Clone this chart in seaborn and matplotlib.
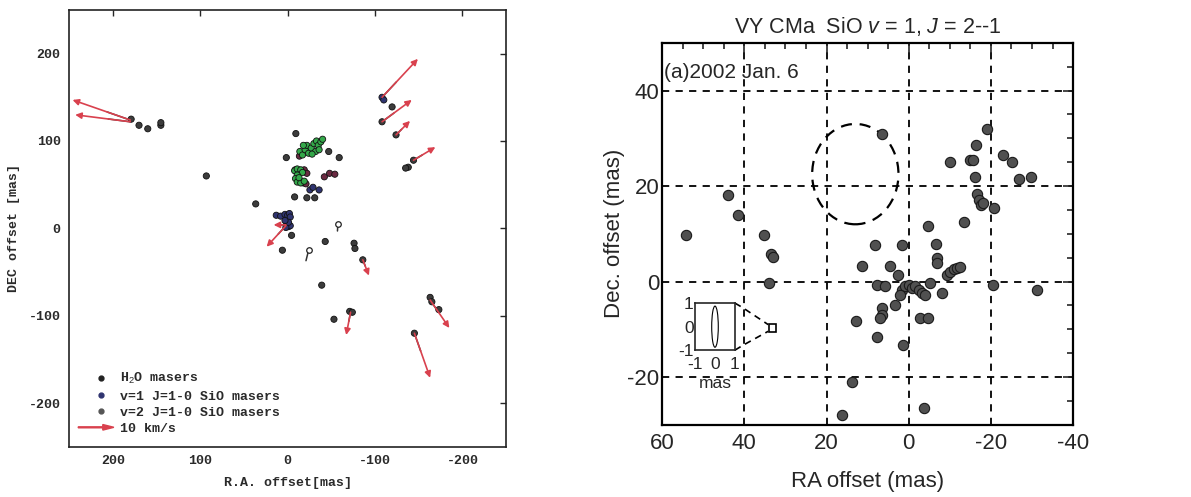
import pandas as pd
import seaborn as sns
import matplotlib.pyplot as plt
from matplotlib.lines import Line2D
from matplotlib.patches import Ellipse, Rectangle, FancyArrow
from matplotlib.legend_handler import HandlerPatch

sns.set_style('white')
plt.rcParams['font.family'] = ['Liberation Sans', 'DejaVu Sans']
plt.rcParams['mathtext.fontset'] = 'custom'
plt.rcParams['mathtext.it'] = 'Liberation Sans:italic'
plt.rcParams['mathtext.rm'] = 'Liberation Sans'
plt.rcParams['axes.unicode_minus'] = False

# ==== LEFT PANEL: maser spots (mas) ====
h2o_ra = [179, 170, 160, 145, 145, -119.5, -108, -124, -138, -135, -144,
          -163, -165, -173, -145, -76, -77, -86, -71, -74, -53, -39, -43,
          6, -4.5, 36.5, 93, -8, -22, -31, -47, -59, 1.5, -9.4]
h2o_dec = [125, 118, 114, 118, 121, 139, 122, 107, 70, 69, 78,
           -79, -84, -93, -120, -17, -23, -36, -95, -96, -104, -65, -15,
           -25, -8, 28, 60, 36, 35, 35, 88, 81, 81, 108.5]
open_ra = [-57.5, -24]
open_dec = [5, -25]

v1_ra = [-108, -110, 13, 8, 3, 0, -2, -3, 1, -1, -3, 2, -1, 3, -25.5, -29, -36]
v1_dec = [150, 147, 15, 14, 16, 15, 17, 13, 5, 2, 3, 1, 7, 9, 44, 47, 44]

v2_ra = [-18, -21, -42, -48, -54, -13.5, -19, -22, -8.6]
v2_dec = [52, 51, 59, 63, 62, 82.7, 67, 63, 67]

green_ra = [-14, -17, -20, -22, -24, -27, -30, -33, -35, -38, -40, -32, -28, -18, -36,
            -8, -11, -15, -17, -11, -9, -11, -15, -19, -13]
green_dec = [88, 84, 90, 95, 86, 92, 97, 100, 95, 99, 102, 88, 85, 95, 90,
             66, 68, 67, 64, 61, 57, 53, 52, 54, 58]

# proper-motion arrows: start -> end
arrow_ra0 = [180, 180, -108, -108, -124, -144, -163, -145, -86, -72, 2, 2]
arrow_dec0 = [124, 122, 150, 122, 107, 78, -82, -120, -36, -96, 3, 4]
arrow_ra1 = [246, 243, -149, -142, -140, -169, -185, -163, -93, -67, 24, 16]
arrow_dec1 = [147, 130, 194, 147, 123, 93, -114, -171, -54, -122, -21, 4]
# short dark tails without heads
tail_ra0 = [-57.5, -24]
tail_dec0 = [5, -25]
tail_ra1 = [-57, -21]
tail_dec1 = [-3, -37]

# ==== RIGHT PANEL: SiO v=1 J=2-1 spots (mas) ====
sio_ra = [54.1, 44, 41.6, 35.2, 33.6, 33.1, 34, 6.5, -19, -16.4, -10.1, -15, -15.6,
          -16.2, -22.9, -25.1, -26.8, -29.8, -16.6, -17, -17.5, -18, -20.7, -13.5,
          -4.7, 8.2, 1.7, -6.7, -6.9, -7.0, 11.4, 4.5, 2.5, 7.8, 5.7,
          1.7, 0.9, 0, -0.8, -1.6, -2.4, -3.2, -4, 2.1, -5.2, -8.1,
          -9.3, -10.1, -10.9, -11.7, -12.5, -20.4, -31.2, 3.3, 6.5, 6.5, 7,
          -2.8, -4.8, 12.9, 7.8, 1.4, 13.7, 16.3, -3.6]
sio_dec = [9.7, 18.2, 13.9, 9.7, 5.8, 5.2, -0.3, 31, 32, 28.6, 25.1, 25.4, 25.4,
           22, 26.5, 25, 21.5, 22, 18.4, 17, 16, 16.5, 15.5, 12.5,
           11.6, 7.6, 7.6, 7.8, 4.9, 3.8, 3.3, 3.3, 1.4, -0.7, -0.9,
           -1.7, -1, -0.7, -1.4, -1, -1.7, -2.4, -2.8, -2.8, -0.3, -2.4,
           1.4, 2.1, 2.6, 2.8, 3.1, -0.7, -1.7, -4.9, -5.5, -6.9, -7.6,
           -7.6, -7.6, -8.3, -11.6, -13.2, -21.1, -28, -26.5]
ring_center = (13, 22.5)
ring_diam = 21
beam_box = (33.1, -9.7)
beam_box_size = 1.6

left = pd.concat([
    pd.DataFrame({'ra': h2o_ra, 'dec': h2o_dec, 'kind': 'h2o'}),
    pd.DataFrame({'ra': v1_ra, 'dec': v1_dec, 'kind': 'v1'}),
    pd.DataFrame({'ra': v2_ra, 'dec': v2_dec, 'kind': 'v2'}),
    pd.DataFrame({'ra': green_ra, 'dec': green_dec, 'kind': 'green'}),
], ignore_index=True)
palette = {'h2o': '#3c3c3c', 'v1': '#2f3470', 'v2': '#6b2a42', 'green': '#34a84a'}
red = '#d9414e'
mono = 'Liberation Mono'
txt = '#2a2a2a'

fig = plt.figure(figsize=(11.91, 4.97), dpi=100)

# ==== LEFT PANEL ====
ax1 = fig.add_axes([0.058, 0.101, 0.367, 0.879])
for a0, d0, a1, d1 in zip(arrow_ra0, arrow_dec0, arrow_ra1, arrow_dec1):
    ax1.annotate('', xy=(a1, d1), xytext=(a0, d0),
                 arrowprops=dict(arrowstyle='-|>', color=red, lw=1.2,
                                 mutation_scale=9, shrinkA=0, shrinkB=0))
    ax1.plot([a0, a0 + 0.4 * (a1 - a0)], [d0, d0 + 0.4 * (d1 - d0)],
             color='#333333', lw=1.1)
for a0, d0, a1, d1 in zip(tail_ra0, tail_dec0, tail_ra1, tail_dec1):
    ax1.plot([a0, a1], [d0, d1], color='#333333', lw=1.1)

sns.scatterplot(data=left, x='ra', y='dec', hue='kind', palette=palette,
                s=20, edgecolor='#111111', linewidth=0.6, legend=False, ax=ax1)
ax1.scatter(open_ra, open_dec, s=16, facecolor='white', edgecolor='#222222', lw=0.9, zorder=3)

ax1.set_xlim(250, -250)
ax1.set_ylim(-250, 250)
ax1.set_xticks([200, 100, 0, -100, -200])
ax1.set_yticks([-200, -100, 0, 100, 200])
ax1.tick_params(direction='in', length=4, width=1, top=True, right=True,
                labelsize=9.5, labelcolor=txt, pad=6)
for lab in ax1.get_xticklabels() + ax1.get_yticklabels():
    lab.set_fontfamily(mono)
    lab.set_fontweight('bold')
ax1.set_xlabel('R.A. offset[mas]', fontfamily=mono, fontweight='bold',
               fontsize=9.5, color=txt, labelpad=7)
ax1.set_ylabel('DEC offset [mas]', fontfamily=mono, fontweight='bold',
               fontsize=9.5, color=txt, labelpad=6)
for sp in ax1.spines.values():
    sp.set_color('#222222')
    sp.set_linewidth(1.2)


def arrow_handle(legend, orig_handle, xdescent, ydescent, width, height, fontsize):
    return FancyArrow(-xdescent - 0.35 * width, height / 2, 1.35 * width, 0,
                      width=0.7, head_width=4, head_length=8,
                      length_includes_head=True, color=red)


handles = [
    Line2D([], [], marker='o', ls='', color='#222222', markersize=3.5),
    Line2D([], [], marker='o', ls='', color='#2f3470', markersize=3.5),
    Line2D([], [], marker='o', ls='', color='#555555', markersize=3.5),
    FancyArrow(0, 0, 1, 0, color=red),
]
labels = ['H$_2$O masers', 'v=1 J=1-0 SiO masers', 'v=2 J=1-0 SiO masers', '10 km/s']
leg = ax1.legend(handles, labels, loc='lower left', bbox_to_anchor=(0.015, 0.0),
                 frameon=False, labelspacing=0.3, handletextpad=0.5,
                 handler_map={FancyArrow: HandlerPatch(patch_func=arrow_handle)},
                 prop={'family': mono, 'weight': 'bold', 'size': 9.5})
for t in leg.get_texts():
    t.set_color(txt)

# ==== RIGHT PANEL ====
ax2 = fig.add_axes([0.556, 0.145, 0.345, 0.769])
sns.scatterplot(x=sio_ra, y=sio_dec, color='#505050', edgecolor='#1a1a1a',
                s=55, linewidth=0.8, ax=ax2, zorder=3)
ax2.add_patch(Ellipse(ring_center, ring_diam, ring_diam, fill=False,
                      ec='black', lw=1.6, ls=(0, (5, 3.5))))
ax2.add_patch(Rectangle((beam_box[0] - beam_box_size / 2, beam_box[1] - beam_box_size / 2),
                        beam_box_size, beam_box_size, fill=False, ec='black', lw=1.2))
ax2.plot([42.3, 40.5, 34.2], [-4.5, -5.4, -9.0], color='black', lw=1.2, ls=(0, (4, 3)))
ax2.plot([42.3, 40.5, 34.2], [-14.35, -13.4, -10.4], color='black', lw=1.2, ls=(0, (4, 3)))

ax2.set_xlim(60, -40)
ax2.set_ylim(-30, 50)
ax2.set_xticks([60, 40, 20, 0, -20, -40])
ax2.set_yticks([-20, 0, 20, 40])
ax2.set_xticks(range(-40, 61, 5), minor=True)
ax2.set_yticks(range(-30, 51, 5), minor=True)
ax2.grid(True, which='major', color='black', lw=1.3, ls=(0, (4, 3.5)))
ax2.tick_params(which='both', direction='in', top=True, right=True, width=1.2,
                labelsize=16)
ax2.tick_params(axis='x', pad=6)
ax2.tick_params(axis='y', pad=2)
ax2.tick_params(which='major', length=7)
ax2.tick_params(which='minor', length=4)
ax2.set_xlabel('RA offset (mas)', fontsize=16, labelpad=12)
ax2.set_ylabel('Dec. offset (mas)', fontsize=16, labelpad=2)
ax2.set_title('VY CMa  SiO $v$ = 1, $J$ = 2--1', fontsize=15.5, pad=7)
ax2.text(59.5, 43.8, '(a)2002 Jan. 6', fontsize=15, ha='left', va='center')
for sp in ax2.spines.values():
    sp.set_color('black')
    sp.set_linewidth(1.6)

# inset: synthesized beam
axi = ax2.inset_axes([0.08, 0.1956, 0.097, 0.123])
axi.add_patch(Ellipse((0, 0), 0.33, 1.75, fill=False, ec='black', lw=0.8))
axi.set_xlim(-1, 1)
axi.set_ylim(-1, 1)
axi.set_xticks([-1, 0, 1])
axi.set_yticks([-1, 0, 1])
axi.tick_params(length=0, labelsize=12.5)
axi.tick_params(axis='x', pad=5)
axi.tick_params(axis='y', pad=1)
axi.set_xlabel('mas', fontsize=12.5, labelpad=3)
for sp in axi.spines.values():
    sp.set_linewidth(1.2)

fig.savefig('out.png', dpi=100, facecolor='white')
